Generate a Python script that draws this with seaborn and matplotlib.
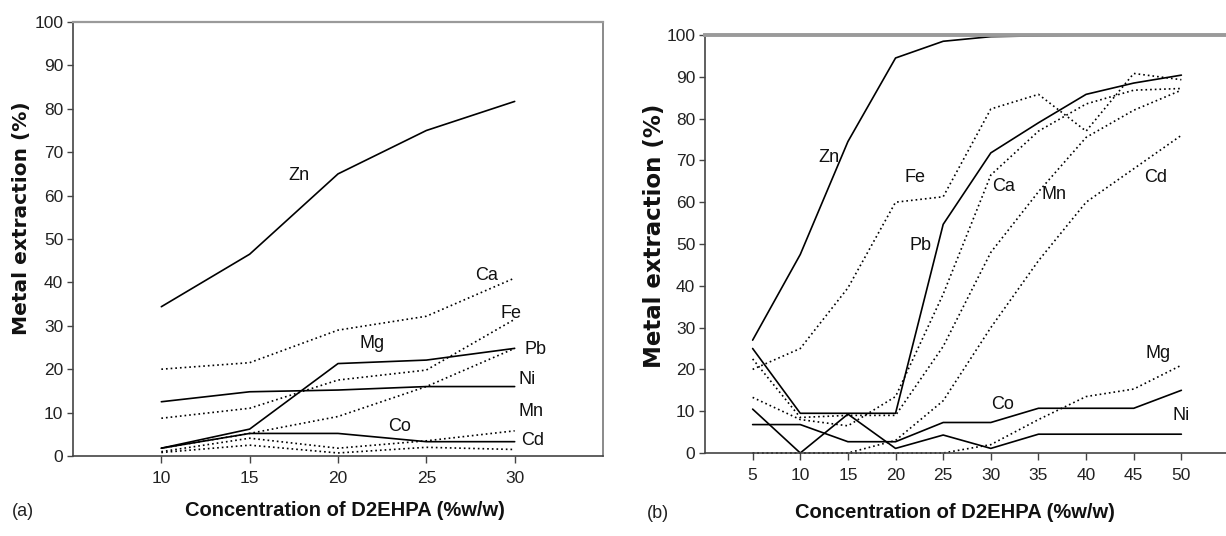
import matplotlib
matplotlib.use("Agg")
import matplotlib.pyplot as plt
from matplotlib import font_manager
import seaborn as sns
import pandas as pd

# ---- data: panel (a) ----
conc_a = [10, 15, 20, 25, 30]
a_zn = [34.4, 46.5, 65.0, 75.0, 81.7]
a_ca = [20.0, 21.5, 29.0, 32.2, 41.0]
a_fe = [8.7, 11.0, 17.5, 19.8, 31.5]
a_pb = [1.8, 6.2, 21.3, 22.1, 24.8]
a_ni = [12.5, 14.8, 15.2, 16.0, 16.0]
a_mg = [1.8, 5.2, 9.1, 16.0, 24.8]
a_co = [1.8, 5.2, 5.2, 3.3, 3.3]
a_mn = [1.0, 4.1, 1.8, 3.5, 5.8]
a_cd = [0.8, 2.5, 0.7, 2.0, 1.5]

# ---- data: panel (b) ----
conc_b = [5, 10, 15, 20, 25, 30, 35, 40, 45, 50]
b_zn = [27.0, 47.5, 74.5, 94.5, 98.5, 99.6, 99.8, 100.0, 100.0, 100.0]
b_fe = [20.0, 25.0, 39.5, 60.0, 61.3, 82.3, 85.8, 77.0, 90.8, 89.3]
b_ca = [13.3, 8.0, 6.5, 13.5, 38.0, 66.5, 77.0, 83.5, 86.8, 87.2]
b_pb = [25.0, 9.5, 9.5, 9.5, 54.7, 71.8, 79.0, 85.8, 88.5, 90.4]
b_mn = [22.5, 8.5, 9.0, 9.0, 25.5, 48.0, 62.5, 75.5, 82.0, 86.8]
b_cd = [0.0, 0.0, 0.0, 3.0, 12.5, 30.0, 46.0, 60.0, 68.0, 76.0]
b_mg = [0.0, 0.0, 0.0, 0.0, 0.0, 2.0, 8.0, 13.5, 15.3, 21.0]
b_co = [6.8, 6.8, 2.7, 2.7, 7.3, 7.3, 10.7, 10.7, 10.7, 15.0]
b_ni = [10.5, 0.0, 9.3, 1.1, 4.3, 1.1, 4.5, 4.5, 4.5, 4.5]

series_a = {"Zn": a_zn, "Ca": a_ca, "Fe": a_fe, "Pb": a_pb, "Ni": a_ni,
            "Mg": a_mg, "Co": a_co, "Mn": a_mn, "Cd": a_cd}
series_b = {"Zn": b_zn, "Fe": b_fe, "Ca": b_ca, "Pb": b_pb, "Mn": b_mn,
            "Cd": b_cd, "Mg": b_mg, "Co": b_co, "Ni": b_ni}

# solid vs dotted trace per metal
dotted = {"Ca", "Fe", "Mg", "Mn", "Cd"}

# label placement (data coordinates)
label_pos_a = {"Zn": (17.8, 64.6), "Ca": (28.4, 41.7), "Fe": (29.8, 32.8),
               "Mg": (21.9, 26.0), "Pb": (31.2, 24.6), "Ni": (30.7, 17.7),
               "Mn": (30.9, 10.2), "Co": (23.5, 6.7), "Cd": (31.0, 3.5)}
label_pos_b = {"Zn": (13.0, 70.6), "Fe": (22.0, 65.9), "Ca": (31.3, 63.8),
               "Mn": (36.6, 61.8), "Cd": (47.3, 65.9), "Pb": (22.6, 49.7),
               "Mg": (47.6, 23.7), "Co": (31.2, 11.5), "Ni": (50.0, 9.0)}

sns.set_theme(style="white")

installed = {f.name for f in font_manager.fontManager.ttflist}
narrow = "Liberation Sans Narrow" if "Liberation Sans Narrow" in installed else "Liberation Sans"
plt.rcParams["font.family"] = [narrow, "DejaVu Sans"]

fig = plt.figure(figsize=(12.26, 5.36), dpi=100)
W, H = 1226, 536
ax_a = fig.add_axes([73 / W, 1 - 456 / H, (603 - 73) / W, (456 - 22) / H])
ax_b = fig.add_axes([705 / W, 1 - 453 / H, 524 / W, (453 - 35) / H])


def draw_panel(ax, x, series, labels, xlim, xticks):
    for name, vals in series.items():
        df = pd.DataFrame({"conc": x, "ext": vals})
        ls = (0, (1, 1.8)) if name in dotted else "-"
        sns.lineplot(data=df, x="conc", y="ext", ax=ax, color="black",
                     linewidth=1.2, linestyle=ls, estimator=None, sort=False,
                     clip_on=False)
        lx, ly = labels[name]
        ax.text(lx, ly, name, fontsize=13, ha="center", va="center",
                color="#111111")
    ax.set_xlim(*xlim)
    ax.set_ylim(0, 100)
    ax.set_xticks(xticks)
    ax.set_yticks(range(0, 101, 10))
    ax.tick_params(axis="both", which="major", labelsize=12.5, length=4,
                   width=1, color="#444444", labelcolor="#222222", pad=3,
                   direction="out", bottom=True, left=True)
    ax.tick_params(axis="x", length=5, pad=6)
    for side in ("left", "bottom"):
        ax.spines[side].set_color("#444444")
        ax.spines[side].set_linewidth(1.2)
    ax.spines["top"].set_color("#9a9a9a")
    ax.spines["right"].set_color("#777777")
    ax.set_xlabel("")
    ax.set_ylabel("")
    ax.grid(False)


draw_panel(ax_a, conc_a, series_a, label_pos_a, (5, 35), conc_a)
ax_a.spines["top"].set_linewidth(1.6)
ax_a.spines["right"].set_linewidth(1.2)

draw_panel(ax_b, conc_b, series_b, label_pos_b, (0, 55), conc_b)
ax_b.spines["top"].set_linewidth(2.8)
ax_b.spines["right"].set_visible(False)

# axis titles
ylab_kw = dict(fontweight="bold", family=["DejaVu Sans"], rotation=90,
               ha="center", va="center", color="#111111")
fig.text(22 / W, 1 - 218 / H, "Metal extraction (%)", fontsize=14.5, **ylab_kw)
fig.text(654 / W, 1 - 236 / H, "Metal extraction (%)", fontsize=16.5, **ylab_kw)

xlab_kw = dict(fontsize=14.5, fontweight="bold", ha="center", va="center",
               color="#111111")
fig.text(345 / W, 1 - 511 / H, "Concentration of D2EHPA (%w/w)", **xlab_kw)
fig.text(955 / W, 1 - 513 / H, "Concentration of D2EHPA (%w/w)", **xlab_kw)

fig.text(23 / W, 1 - 511 / H, "(a)", fontsize=13, ha="center", va="center",
         color="#222222")
fig.text(658 / W, 1 - 513 / H, "(b)", fontsize=13, ha="center", va="center",
         color="#222222")

fig.savefig("out.png", dpi=100)
